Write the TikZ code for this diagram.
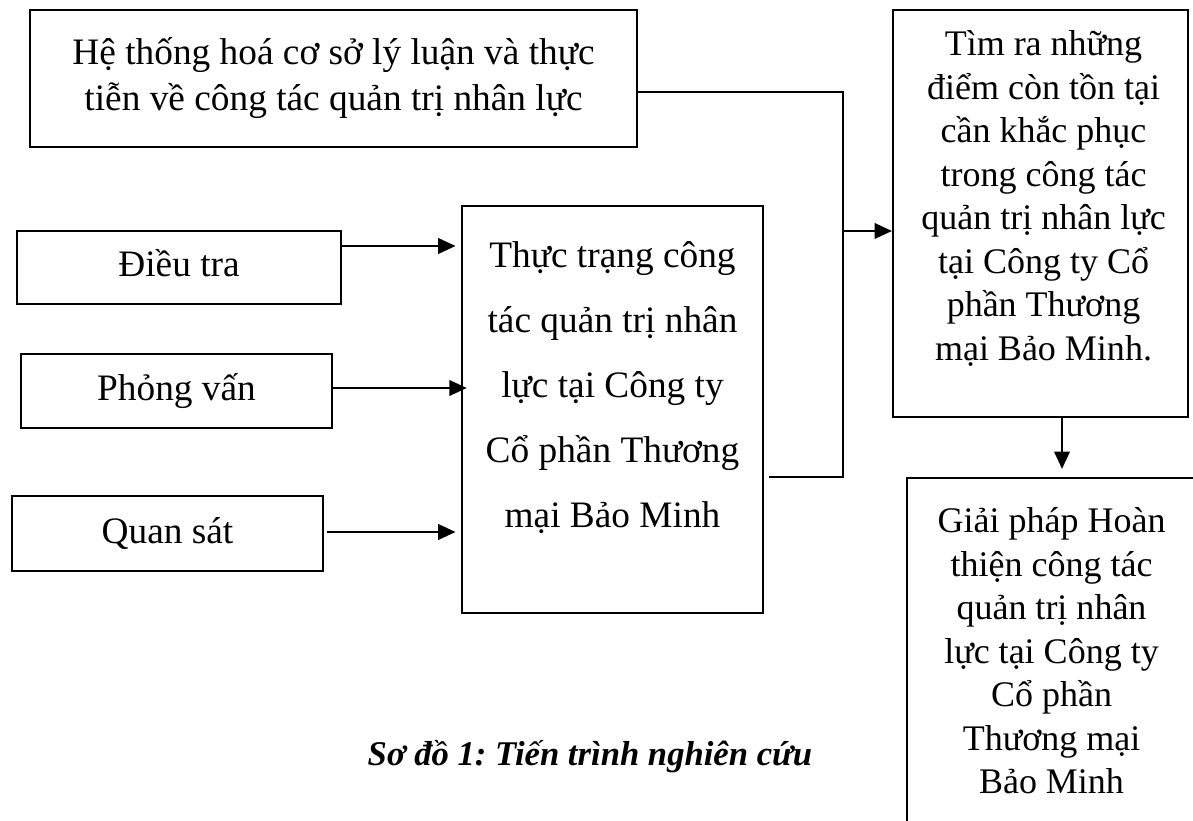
\documentclass[tikz,border=0pt]{standalone}
\usepackage{fontspec}
\setmainfont{Liberation Serif}
\usetikzlibrary{arrows.meta,calc}
\frenchspacing
\begin{document}
\begin{tikzpicture}[x=0.375pt,y=-0.375pt,
  box/.style={draw, line width=0.8pt, rectangle, inner sep=0pt, align=center},
  plain/.style={inner sep=0pt, align=center},
  link/.style={line width=0.8pt},
  arr/.style={link, -{Triangle[length=6.5pt,width=5.8pt]}},
  txtA/.style={font=\fontsize{14}{17.25}\selectfont},
  txtB/.style={font=\fontsize{14}{24.4}\selectfont},
  txtC/.style={font=\fontsize{13.5}{16.3}\selectfont}]
\useasboundingbox (0,0) rectangle (1193,821);

% boxes
\node[box, txtA, minimum width=227.6pt, minimum height=51.4pt] (tong) at (333.5,78.5)
  {Hệ thống hoá cơ sở lý luận và thực\\tiễn về công tác quản trị nhân lực};
\node[box, txtA, minimum width=121.5pt, minimum height=27.4pt] (dieutra) at (179,267.5) {};
\node[plain, txtA] (dieutratxt) at ($(dieutra.center)+(0,-4)$) {Điều tra};
\node[box, txtA, minimum width=116.6pt, minimum height=27.75pt] (phongvan) at (176.5,391) {Phỏng vấn};
\node[box, txtA, minimum width=116.6pt, minimum height=28.1pt] (quansat) at (167.5,533.5) {Quan sát};

\node[box, minimum width=112.9pt, minimum height=152.6pt] (mid) at (612.5,409.5) {};
\node[plain, txtB] (midtxt) at ($(mid.center)+(0,-22)$)
  {Thực trạng công\\tác quản trị nhân\\lực tại Công ty\\Cổ phần Thương\\mại Bảo Minh};

\node[box, minimum width=110.6pt, minimum height=152.6pt] (rtop) at (1040.5,213.5) {};
\node[plain, txtC] (rtoptxt) at ($(rtop.center)+(3,-15)$)
  {Tìm ra những\\điểm còn tồn tại\\cần khắc phục\\trong công tác\\quản trị nhân lực\\tại Công ty Cổ\\phần Thương\\mại Bảo Minh.};

\begin{scope}
\clip (0,0) rectangle (1193,821);
\node[box, txtC, minimum width=108.4pt, minimum height=129.75pt] (rbot) at (1051.5,651)
  {Giải pháp Hoàn\\thiện công tác\\quản trị nhân\\lực tại Công ty\\Cổ phần\\Thương mại\\Bảo Minh};
\end{scope}

\node[font=\fontsize{13}{16}\selectfont\bfseries\itshape] (cap) at (590,757)
  {Sơ đồ 1: Tiến trình nghiên cứu};

% junction points
\coordinate (j1) at (843,92);
\coordinate (j2) at (843,477);
\coordinate (j3) at (843,231);
\coordinate (d1) at (1062,0);
\coordinate (a1) at (0,246);
\coordinate (a2) at (0,388);
\coordinate (a3) at (0,532);

% connectors
\draw[link] (tong.east |- j1) -- (j1) -- (j2) -- ([xshift=2pt]mid.east |- j2);
\draw[arr] (j3) -- (rtop.west |- j3);
\draw[arr, shorten >=3pt] (rtop.south -| d1) -- (rbot.north -| d1);
\draw[arr, shorten >=2pt] (dieutra.east |- a1) -- (mid.west |- a1);
\draw[arr] (phongvan.east |- a2) -- ([xshift=2.2pt]mid.west |- a2);
\draw[arr, shorten >=2pt] ([xshift=1pt]quansat.east |- a3) -- (mid.west |- a3);
\end{tikzpicture}
\end{document}
